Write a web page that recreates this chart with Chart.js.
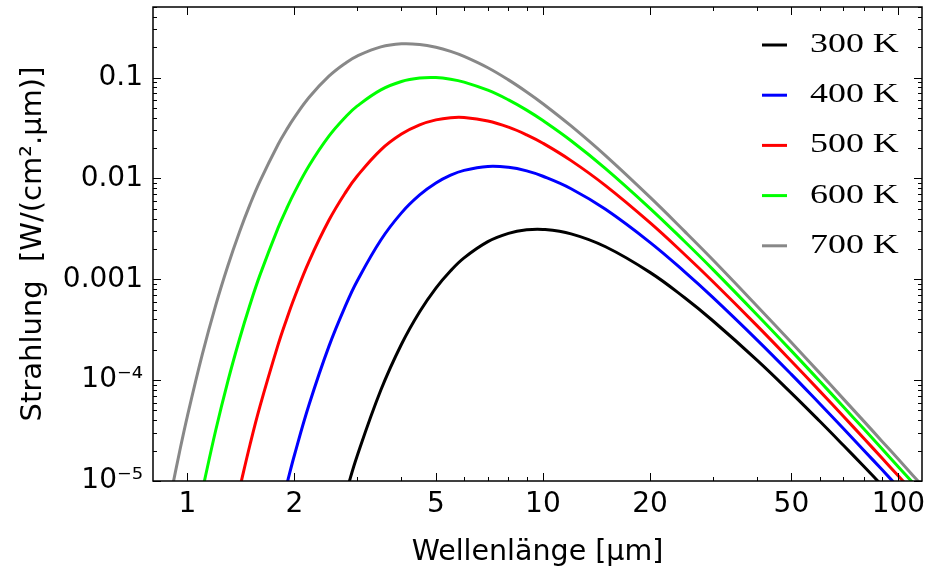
<!DOCTYPE html>
<html>
<head>
<meta charset="utf-8">
<title>Strahlung schwarzer Körper</title>
<script src="https://cdn.jsdelivr.net/npm/chart.js"></script>
<style>
    html, body { margin: 0; padding: 0; background: #fff; }
</style>
</head>
<body>
<canvas id="graph" width="925" height="574"></canvas>
<script>
    // wavelength in µm, radiance in W/(cm².µm)
    const wavelengths = [0.9, 0.95, 1.0, 1.1, 1.2, 1.3, 1.4, 1.5, 1.6, 1.8, 1.9, 2.0, 2.2, 2.5, 2.8, 3.0, 3.5, 4, 4.5,
        5, 5.5, 6, 7, 8, 9, 10, 12, 15, 20, 25, 30, 40, 50, 60, 70, 80, 90, 100, 110, 120];

    const rad300 = [null, null, null, null, null, null, null, null, null, null, null, null, null, null,
        7.91e-6, 1.76e-5, 7.97e-5, 2.27e-4, 4.77e-4, 8.18e-4, 1.214e-3, 1.63e-3, 2.36e-3, 2.85e-3, 3.09e-3, 3.12e-3,
        2.82e-3, 2.10e-3, 1.17e-3, 6.59e-4, 3.90e-4, 1.58e-4, 7.44e-5, 3.93e-5, 2.26e-5, 1.39e-5, 9.00e-6, 6.08e-6,
        4.25e-6, 3.06e-6];
    const rad400 = [null, null, null, null, null, null, null, null, null, null,
        9.06e-6, 1.81e-5, 5.76e-5, 2.16e-4, 5.73e-4, 9.56e-4, 2.45e-3, 4.55e-3, 6.85e-3, 8.99e-3, 0.01075, 0.0120,
        0.01314, 0.01288, 0.01187, 0.0105, 7.90e-3, 4.93e-3, 2.32e-3, 1.19e-3, 6.65e-4, 2.51e-4, 1.14e-4, 5.86e-5,
        3.32e-5, 2.01e-5, 1.29e-5, 8.64e-6, 6.01e-6, 4.30e-6];
    const rad500 = [null, null, null, null, null, null,
        8.24e-6, 2.30e-5, 5.52e-5, 2.26e-4, 4.00e-4, 6.60e-4, 1.515e-3, 3.84e-3, 7.48e-3, 0.0105, 0.0192, 0.0275,
        0.0339, 0.0380, 0.03995, 0.0401, 0.0371, 0.0322, 0.0270, 0.0223, 0.0150, 8.48e-3, 3.64e-3, 1.77e-3, 9.56e-4,
        3.47e-4, 1.54e-4, 7.82e-5, 4.38e-5, 2.64e-5, 1.68e-5, 1.12e-5, 7.77e-6, 5.55e-6];
    const rad600 = [null, null, null,
        7.91e-6, 3.15e-5, 9.83e-5, 2.53e-4, 5.62e-4, 1.105e-3, 3.25e-3, 4.99e-3, 7.26e-3, 0.0134, 0.0262, 0.0415,
        0.0520, 0.0754, 0.0913, 0.0988, 0.0998, 0.0962, 0.0901, 0.0748, 0.0600, 0.0475, 0.0374, 0.0236, 0.0125,
        5.05e-3, 2.38e-3, 1.26e-3, 4.45e-4, 1.95e-4, 9.79e-5, 5.45e-5, 3.27e-5, 2.08e-5, 1.38e-5, 9.54e-6, 6.80e-6];
    const rad700 = [7.64e-6, 1.94e-5, 4.43e-5, 1.78e-4, 5.48e-4, 1.37e-3, 2.93e-3, 5.52e-3, 9.41e-3, 0.0218,
        0.0303, 0.0402, 0.0636, 0.103, 0.141, 0.163, 0.201, 0.216, 0.2128, 0.1995, 0.1815, 0.162, 0.125, 0.0947,
        0.0719, 0.0550, 0.0331, 0.0168, 6.51e-3, 3.00e-3, 1.57e-3, 5.44e-4, 2.36e-4, 1.18e-4, 6.52e-5, 3.90e-5,
        2.47e-5, 1.64e-5, 1.13e-5, 8.05e-6];

    const seriesLabels = ['300 K', '400 K', '500 K', '600 K', '700 K'];
    const seriesColors = ['#000000', '#0000ff', '#ff0000', '#00ff00', '#888888'];

    const xTickValues = [1, 2, 5, 10, 20, 50, 100];
    const xTickLabels = ['1', '2', '5', '10', '20', '50', '100'];
    const yTickValues = [1e-5, 1e-4, 1e-3, 1e-2, 1e-1];
    const yTickLabels = ['10⁻⁵', '10⁻⁴', '0.001', '0.01', '0.1'];

    const axisFont = 'DejaVu Sans';

    // inward ticks on all four sides + frame, like the Mathematica frame
    const frameTicks = {
        id: 'frameTicks',
        afterDatasetsDraw(chart) {
            const {ctx, chartArea: area, scales} = chart;
            const xs = scales.x, ys = scales.y;
            ctx.save();
            ctx.strokeStyle = '#000';
            ctx.lineWidth = 1;
            ctx.beginPath();
            for (let e = 0; e <= 2; e++) {
                for (let m = 1; m <= 9; m++) {
                    const v = m * Math.pow(10, e);
                    if (v < xs.min || v > xs.max) continue;
                    const len = (m === 1 || m === 2 || m === 5) ? 8 : 4;
                    const px = Math.round(xs.getPixelForValue(v)) + 0.5;
                    ctx.moveTo(px, area.bottom);
                    ctx.lineTo(px, area.bottom - len);
                    ctx.moveTo(px, area.top);
                    ctx.lineTo(px, area.top + len);
                }
            }
            for (let e = -5; e <= -1; e++) {
                for (let m = 1; m <= 9; m++) {
                    const v = m * Math.pow(10, e);
                    if (v < ys.min * 0.999 || v > ys.max * 1.001) continue;
                    const len = m === 1 ? 8 : 4;
                    const py = Math.round(ys.getPixelForValue(v)) + 0.5;
                    ctx.moveTo(area.left, py);
                    ctx.lineTo(area.left + len, py);
                    ctx.moveTo(area.right, py);
                    ctx.lineTo(area.right - len, py);
                }
            }
            ctx.stroke();
            ctx.lineWidth = 1.5;
            ctx.strokeRect(area.left, area.top, area.right - area.left, area.bottom - area.top);
            ctx.restore();
        }
    };

    // legend sitting inside the plot, top right
    const insetLegend = {
        id: 'insetLegend',
        afterDraw(chart) {
            const {ctx, chartArea: area} = chart;
            chart.data.datasets.forEach((ds, i) => {
                const y = area.top + 38 + i * 50.2;
                ctx.save();
                ctx.strokeStyle = ds.borderColor;
                ctx.lineWidth = 3;
                ctx.beginPath();
                ctx.moveTo(area.right - 160, y);
                ctx.lineTo(area.right - 135, y);
                ctx.stroke();
                ctx.translate(area.right - 112, y);
                ctx.scale(1.33, 1);
                ctx.font = '27px "Liberation Serif"';
                ctx.fillStyle = '#000';
                ctx.textBaseline = 'middle';
                ctx.fillText(ds.label, 0, 0);
                ctx.restore();
            });
        }
    };

    const series = [rad300, rad400, rad500, rad600, rad700];

    const data = {
        datasets: series.map((vals, i) => ({
            label: seriesLabels[i],
            data: wavelengths.map((w, j) => ({x: w, y: vals[j]})),
            borderColor: seriesColors[i],
            backgroundColor: seriesColors[i],
            borderWidth: 3,
            pointRadius: 0,
            fill: false,
            tension: 0.4
        }))
    };

    const config = {
        type: 'line',
        data: data,
        options: {
            responsive: false,
            animation: false,
            layout: {padding: {left: 0, top: 7, right: 3, bottom: 0}},
            plugins: {
                legend: {display: false},
                tooltip: {enabled: false}
            },
            scales: {
                x: {
                    type: 'logarithmic',
                    min: 0.8,
                    max: 116.5,
                    afterBuildTicks: s => { s.ticks = xTickValues.map(v => ({value: v})); },
                    afterFit: s => { s.height = 93; s.paddingLeft = 0; s.paddingRight = 0; },
                    grid: {display: false, drawTicks: false},
                    border: {display: false},
                    ticks: {
                        callback: (v, i) => xTickLabels[i],
                        font: {family: axisFont, size: 28},
                        color: '#000',
                        padding: 7,
                        maxRotation: 0,
                        autoSkip: false
                    },
                    title: {
                        display: true,
                        text: 'Wellenlänge [µm]',
                        font: {family: axisFont, size: 28.5},
                        color: '#000',
                        padding: {top: 0, bottom: 4}
                    }
                },
                y: {
                    type: 'logarithmic',
                    min: 1e-5,
                    max: 0.5,
                    afterBuildTicks: s => { s.ticks = yTickValues.map(v => ({value: v})); },
                    afterFit: s => { s.width = 153; s.paddingTop = 0; s.paddingBottom = 0; },
                    grid: {display: false, drawTicks: false},
                    border: {display: false},
                    ticks: {
                        callback: (v, i) => yTickLabels[i],
                        font: {family: axisFont, size: 28},
                        color: '#000',
                        padding: 10,
                        autoSkip: false
                    },
                    title: {
                        display: true,
                        text: 'Strahlung  [W/(cm².µm)]',
                        font: {family: axisFont, size: 29},
                        color: '#000',
                        padding: {top: 16, bottom: 0}
                    }
                }
            }
        },
        plugins: [frameTicks, insetLegend]
    };

    new Chart(document.getElementById('graph'), config);
</script>
</body>
</html>
